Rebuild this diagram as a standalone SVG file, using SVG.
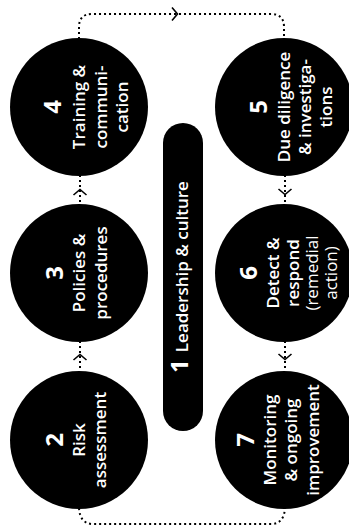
<svg xmlns="http://www.w3.org/2000/svg" width="349" height="526" viewBox="0 0 349 526">
<style>
.c{fill:#000}
.t{fill:#fff;font-family:"Open Sans",sans-serif;font-weight:600;font-size:17px;text-anchor:middle}
.n{font-weight:700;font-size:24px}
.l{font-weight:400}
.d{fill:none;stroke:#000;stroke-width:2;stroke-dasharray:2 3}
.a{fill:none;stroke:#000;stroke-width:1.6;stroke-linejoin:miter}
</style>
<defs>
<path id="chev" d="M-3,-6.5 L2.5,0 L-3,6.5"/>
</defs>
<rect width="349" height="526" fill="#fff"/>
<g id="connectors">
<path class="d" d="M79,39 V27 Q79,14 92,14 H271 Q284,14 284,27 V39"/>
<path class="d" d="M80,175 V205"/>
<path class="d" d="M80,341 V371"/>
<path class="d" d="M285,175 V205"/>
<path class="d" d="M285,341 V371"/>
<path class="d" d="M79,508 Q80,524 93,524 H271 Q284,524 285,508"/>
<use href="#chev" class="a" transform="translate(175,14)"/>
<use href="#chev" class="a" transform="translate(80,192) rotate(-90)"/>
<use href="#chev" class="a" transform="translate(80,357) rotate(-90)"/>
<use href="#chev" class="a" transform="translate(285,192) rotate(90)"/>
<use href="#chev" class="a" transform="translate(285,357) rotate(90)"/>
</g>
<g id="node1">
<rect class="c" x="163" y="123" width="40" height="308" rx="20"/>
<text class="t" transform="translate(188,277) rotate(-90)"><tspan class="n" font-size="21">1</tspan><tspan dx="7">Leadership &amp; culture</tspan></text>
</g>
<g id="node2">
<circle class="c" cx="79" cy="440" r="69"/>
<g transform="translate(79,440) rotate(-90)">
<text class="t n" y="-16">2</text>
<text class="t" y="6">Risk</text>
<text class="t" y="27">assessment</text>
</g>
</g>
<g id="node3">
<circle class="c" cx="79" cy="273" r="69"/>
<g transform="translate(79,273) rotate(-90)">
<text class="t n" y="-16">3</text>
<text class="t" y="6">Policies &amp;</text>
<text class="t" y="28">procedures</text>
</g>
</g>
<g id="node4">
<circle class="c" cx="79" cy="107" r="69"/>
<g transform="translate(79,107) rotate(-90)">
<text class="t n" y="-18">4</text>
<text class="t" y="6">Training &amp;</text>
<text class="t" y="28">communi-</text>
<text class="t" y="49">cation</text>
</g>
</g>
<g id="node5">
<circle class="c" cx="284" cy="107" r="69"/>
<g transform="translate(284,107) rotate(-90)">
<text class="t n" y="-17">5</text>
<text class="t" y="6">Due diligence</text>
<text class="t" y="27">&amp; investiga-</text>
<text class="t" y="48">tions</text>
</g>
</g>
<g id="node6">
<circle class="c" cx="284" cy="273" r="69"/>
<g transform="translate(284,273) rotate(-90)">
<text class="t n" y="-27">6</text>
<text class="t" y="-5">Detect &amp;</text>
<text class="t" y="15">respond</text>
<text class="t l" y="34">(remedial</text>
<text class="t l" y="53">action)</text>
</g>
</g>
<g id="node7">
<circle class="c" cx="284" cy="440" r="69"/>
<g transform="translate(284,440) rotate(-90)">
<text class="t n" y="-30">7</text>
<text class="t" y="-8">Monitoring</text>
<text class="t" y="13">&amp; ongoing</text>
<text class="t" y="35">improvement</text>
</g>
</g>
</svg>
